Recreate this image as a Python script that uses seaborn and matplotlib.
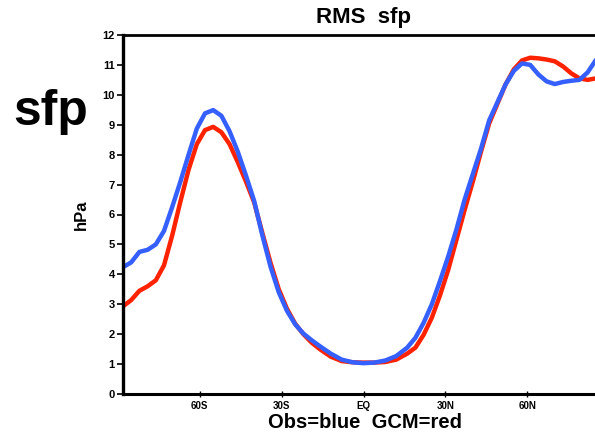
import matplotlib
matplotlib.use("Agg")
import matplotlib.pyplot as plt
import seaborn as sns
import pandas as pd

# ---- data ----
lat = [-88, -85, -82, -79, -76, -73, -70, -67, -64, -61, -58, -55, -52, -49, -46,
       -43, -40, -37, -34, -31, -28, -25, -22, -19, -16, -12, -8, -4, 0, 4, 8, 12,
       16, 19, 22, 25, 28, 31, 34, 37, 40, 43, 46, 49, 52, 55, 58, 61, 64, 67, 70,
       73, 76, 79, 82, 85, 88]

rms_obs = [4.24, 4.40, 4.75, 4.82, 5.00, 5.45, 6.25, 7.10, 8.00, 8.87, 9.38, 9.49,
           9.30, 8.78, 8.10, 7.30, 6.45, 5.30, 4.25, 3.40, 2.78, 2.33, 2.02, 1.80,
           1.60, 1.35, 1.15, 1.06, 1.03, 1.05, 1.12, 1.27, 1.55, 1.88, 2.38, 3.00,
           3.78, 4.60, 5.50, 6.50, 7.35, 8.20, 9.15, 9.75, 10.35, 10.80, 11.05,
           11.00, 10.68, 10.45, 10.36, 10.43, 10.47, 10.50, 10.75, 11.16, 11.50]

rms_gcm = [2.93, 3.14, 3.45, 3.60, 3.80, 4.30, 5.30, 6.43, 7.50, 8.35, 8.82, 8.93,
           8.75, 8.35, 7.75, 7.10, 6.40, 5.38, 4.38, 3.50, 2.85, 2.35, 2.00, 1.72,
           1.50, 1.25, 1.10, 1.06, 1.05, 1.05, 1.07, 1.15, 1.35, 1.55, 1.98, 2.55,
           3.30, 4.15, 5.15, 6.15, 7.10, 8.10, 9.05, 9.70, 10.35, 10.85, 11.15,
           11.24, 11.22, 11.18, 11.12, 10.95, 10.72, 10.55, 10.50, 10.55, 10.60]

xtick_pos = [-60, -30, 0, 30, 60]
xtick_labels = ["60S", "30S", "EQ", "30N", "60N"]
ytick_pos = list(range(0, 13))

series_names = ["GCM", "Obs"]
series_colors = {"GCM": "#ff2200", "Obs": "#3560ff"}

df = pd.concat([
    pd.DataFrame({"lat": lat, "rms": rms_gcm, "series": "GCM"}),
    pd.DataFrame({"lat": lat, "rms": rms_obs, "series": "Obs"}),
], ignore_index=True)

sns.set_style("white")
plt.rcParams["font.family"] = ["Liberation Sans", "DejaVu Sans"]
plt.rcParams["font.weight"] = "bold"
plt.rcParams["text.color"] = "black"
plt.rcParams["xtick.color"] = "black"
plt.rcParams["ytick.color"] = "black"

fig = plt.figure(figsize=(5.95, 4.37), dpi=100)
W, H = 595, 437
left_px, right_px, top_px, bottom_px = 123, 604, 35, 394
ax = fig.add_axes([left_px / W, (H - bottom_px) / H,
                   (right_px - left_px) / W, (bottom_px - top_px) / H])

sns.lineplot(data=df, x="lat", y="rms", hue="series", hue_order=series_names,
             palette=series_colors, linewidth=3.2, legend=False, ax=ax,
             estimator=None, sort=False)

ax.set_xlim(-88, 88)
ax.set_ylim(0, 12)
ax.set_xticks(xtick_pos)
ax.set_xticklabels(xtick_labels, fontsize=7, fontweight="bold", color="black")
ax.set_yticks(ytick_pos)
ax.set_yticklabels([str(v) for v in ytick_pos], fontsize=8, fontweight="bold",
                   color="black")
ax.tick_params(axis="y", direction="out", length=4, width=1.2, pad=2, left=True,
               colors="black")
ax.tick_params(axis="x", direction="inout", length=4, width=1.0, pad=3, bottom=True,
               colors="black")

for side in ["left", "bottom", "top"]:
    ax.spines[side].set_visible(True)
    ax.spines[side].set_color("black")
ax.spines["left"].set_linewidth(2.4)
ax.spines["bottom"].set_linewidth(2.2)
ax.spines["top"].set_linewidth(2.0)
ax.spines["right"].set_visible(False)

ax.set_xlabel("")
ax.set_ylabel("")

fig.text(363 / W, 1 - 18 / H, "RMS  sfp", ha="center", va="center",
         fontsize=16, fontweight="bold", color="black")
fig.text(51 / W, 1 - 112 / H, "sfp", ha="center", va="center",
         fontsize=36, fontweight="bold", color="black")
fig.text(81 / W, 1 - 215 / H, "hPa", ha="center", va="center",
         rotation=90, fontsize=12, fontweight="bold", color="black")
fig.text(365 / W, 1 - 423 / H, "Obs=blue  GCM=red", ha="center", va="center",
         fontsize=14.5, fontweight="bold", color="black")

fig.savefig("out.png", dpi=100)
